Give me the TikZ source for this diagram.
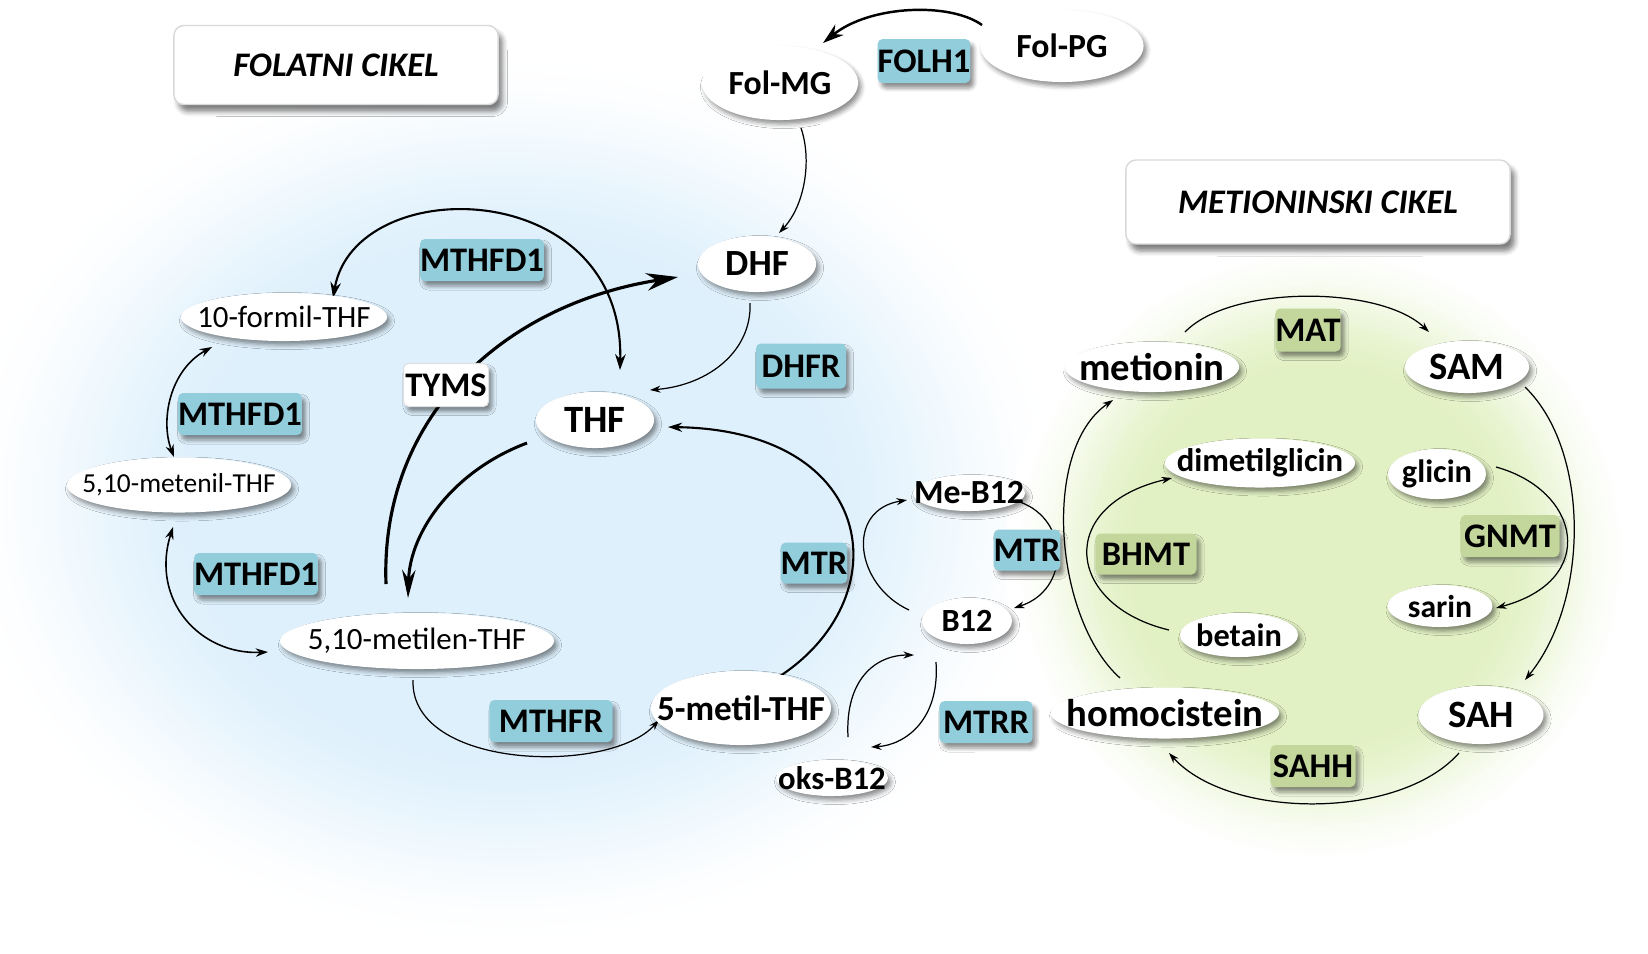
\documentclass[tikz,border=0pt]{standalone}
\usepackage{fontspec}
\setmainfont{Carlito}
\usetikzlibrary{shapes.geometric,arrows.meta,shadows.blur}
\definecolor{enzblue}{RGB}{146,205,220}
\definecolor{enzgreen}{RGB}{195,214,155}
\definecolor{glowblue}{RGB}{222,240,252}
\definecolor{glowgreen}{RGB}{226,241,196}
\pgfdeclarelayer{edges}
\pgfdeclarelayer{top}
\pgfsetlayers{main,edges,top}
\newcommand\fsz[1]{\fontsize{#1pt}{#1pt}\selectfont}
\begin{document}
\begin{tikzpicture}[x=0.01cm,y=-0.01cm,
  nd/.style={ellipse,fill=white,inner xsep=-8pt,inner ysep=-3pt,text=black,
    blur shadow={shadow xshift=0.03cm,shadow yshift=-0.04cm,shadow blur radius=0.045cm,shadow opacity=45}},
  enzb/.style={rectangle,rounded corners=0.05cm,fill=enzblue,inner sep=0pt,font=\fsz{9.8}\bfseries,
    blur shadow={shadow xshift=0.035cm,shadow yshift=-0.05cm,shadow blur radius=0.04cm,shadow opacity=45}},
  enzg/.style={enzb,fill=enzgreen},
  enzw/.style={enzb,fill=white,draw=black!12,line width=0.3pt},
  titlebox/.style={rectangle,rounded corners=0.1cm,fill=white,draw=black!15,line width=0.4pt,inner sep=0pt,
    font=\fsz{9.8}\bfseries\itshape,
    blur shadow={shadow xshift=0.045cm,shadow yshift=-0.07cm,shadow blur radius=0.05cm,shadow opacity=50}},
  nbig/.style={font=\fsz{11}\bfseries},
  nmed/.style={font=\fsz{9.6}\bfseries},
  nreg/.style={font=\fsz{8.8}},
  thinarr/.style={line width=0.35pt,-{Stealth[length=3pt,width=2pt]}},
  dblarr/.style={line width=0.45pt,{Stealth[length=3.5pt,width=2.4pt]}-{Stealth[length=3.5pt,width=2.4pt]}},
  dblmid/.style={line width=0.6pt,{Stealth[length=4.5pt,width=3pt]}-{Stealth[length=4.5pt,width=3pt]}},
  midarr/.style={line width=0.6pt,-{Stealth[length=4pt,width=2.6pt]}},
  folarr/.style={line width=0.7pt,-{Stealth[length=6pt,width=3.8pt]}},
  bigarr/.style={line width=0.9pt,-{Stealth[length=9pt,width=5pt]}},
  bigarrb/.style={line width=0.85pt,-{Stealth[length=8pt,width=3.8pt]}},
]
\useasboundingbox (0,0) rectangle (1648,953);
% invisible zero-size path that uses opacity once
\path[fill=white,fill opacity=0.5] (0,0) rectangle (0,0);

% background glows (concentric rings)
\foreach \k in {0,...,44}{
  \pgfmathsetmacro\s{1-0.46*\k/44}
  \pgfmathsetmacro\p{100*(3*(\k/44)^2-2*(\k/44)^3)}
  \fill[glowblue!\p!white] (510,500) ellipse ({5.6cm*\s} and {4.5cm*\s});
}
\foreach \k in {0,...,44}{
  \pgfmathsetmacro\s{1-0.42*\k/44}
  \pgfmathsetmacro\p{100*(3*(\k/44)^2-2*(\k/44)^3)}
  \fill[glowgreen!\p!white] (1320,555) ellipse ({3.15cm*\s} and {3.15cm*\s});
}

\begin{pgfonlayer}{top}
% title boxes
\node[titlebox,minimum width=3.24cm,minimum height=0.79cm] (folatni) at (336,65) {FOLATNI CIKEL};
\node[titlebox,minimum width=3.84cm,minimum height=0.84cm] (metcikel) at (1318,202) {METIONINSKI CIKEL};

% metabolites
\node[nd,nmed,minimum width=1.56cm,minimum height=0.74cm] (folmg) at (780,83) {Fol-MG};
\node[nd,nmed,minimum width=1.63cm,minimum height=0.72cm] (folpg) at (1062,46) {Fol-PG};
\node[nd,font=\fsz{10.5}\bfseries,minimum width=1.18cm,minimum height=0.56cm] (dhf) at (757,264) {DHF};
\node[nd,nbig,minimum width=1.18cm,minimum height=0.56cm] (thf) at (595,420) {THF};
\node[nd,nreg,minimum width=2.06cm,minimum height=0.48cm] (formil) at (284,317) {10-formil-THF};
\node[nd,font=\fsz{7.8},minimum width=2.24cm,minimum height=0.55cm] (metenil) at (179,485) {5,10-metenil-THF};
\node[nd,nreg,minimum width=2.74cm,minimum height=0.56cm] (metilen) at (417,641) {5,10-metilen-THF};
\node[nd,font=\fsz{10}\bfseries,minimum width=1.8cm,minimum height=0.74cm] (metilthf) at (741,708) {5-metil-THF};
\node[nd,nmed,minimum width=1.12cm,minimum height=0.36cm] (meb12) at (969,493) {Me-B12};
\node[nd,font=\fsz{9.2}\bfseries,minimum width=0.9cm,minimum height=0.46cm] (b12) at (967,621) {B12};
\node[nd,font=\fsz{9.3}\bfseries,minimum width=1.12cm,minimum height=0.36cm] (oksb12) at (832,778) {oks-B12};
\node[nd,nbig,minimum width=1.74cm,minimum height=0.5cm] (metionin) at (1152,367) {metionin};
\node[nd,nbig,minimum width=1.24cm,minimum height=0.52cm] (sam) at (1467,367) {SAM};
\node[nd,font=\fsz{9.3}\bfseries,minimum width=1.9cm,minimum height=0.49cm] (dmg) at (1260,463) {dimetilglicin};
\node[nd,font=\fsz{9.2}\bfseries,minimum width=0.98cm,minimum height=0.5cm] (glicin) at (1437,474) {glicin};
\node[nd,font=\fsz{9}\bfseries,minimum width=1.05cm,minimum height=0.42cm] (sarin) at (1440,606) {sarin};
\node[nd,font=\fsz{9.2}\bfseries,minimum width=1.18cm,minimum height=0.44cm] (betain) at (1239,635) {betain};
\node[nd,nbig,minimum width=2.28cm,minimum height=0.51cm] (homocis) at (1165,713) {homocistein};
\node[nd,nbig,minimum width=1.25cm,minimum height=0.58cm] (sah) at (1481,715) {SAH};

% enzymes
\node[enzb,minimum width=0.9cm,minimum height=0.44cm] (folh1) at (924,61) {FOLH1};
\node[enzb,minimum width=1.22cm,minimum height=0.42cm] (mthfdA) at (482,260) {MTHFD1};
\node[enzb,minimum width=0.9cm,minimum height=0.45cm] (dhfr) at (801,366) {DHFR};
\node[enzw,minimum width=0.85cm,minimum height=0.43cm] (tyms) at (446,385) {TYMS};
\node[enzb,minimum width=1.2cm,minimum height=0.42cm] (mthfdB) at (240,414) {MTHFD1};
\node[enzb,minimum width=1.22cm,minimum height=0.42cm] (mthfdC) at (256,574) {MTHFD1};
\node[enzb,minimum width=1.23cm,minimum height=0.42cm] (mthfr) at (551,721) {MTHFR};
\node[enzb,minimum width=0.65cm,minimum height=0.41cm] (mtrA) at (814,563) {MTR};
\node[enzb,minimum width=0.65cm,minimum height=0.41cm] (mtrB) at (1027,550) {MTR};
\node[enzb,minimum width=0.93cm,minimum height=0.42cm] (mtrr) at (986,722) {MTRR};
\node[enzg,minimum width=0.65cm,minimum height=0.43cm] (mat) at (1308,330) {MAT};
\node[enzg,minimum width=0.99cm,minimum height=0.42cm] (gnmt) at (1510,536) {GNMT};
\node[enzg,minimum width=1.01cm,minimum height=0.41cm] (bhmt) at (1146,554) {BHMT};
\node[enzg,minimum width=0.85cm,minimum height=0.42cm] (sahh) at (1313,766) {SAHH};
\end{pgfonlayer}

% connectors
\begin{pgfonlayer}{edges}
\draw[folarr] ([shift={(-80,-21)}]folpg.center) .. controls +(-32,-23) and +(47,-38) .. ([shift={(43,-40)}]folmg.center);
\draw[thinarr] ([shift={(21,45)}]folmg.center) .. controls +(11,32) and +(26,-28) .. ([shift={(22,-31)}]dhf.center);
\draw[thinarr] ([shift={(-7,39)}]dhf.center) .. controls +(2,47) and +(60,-5) .. ([shift={(55,-30)}]thf.center);
\draw[dblmid] ([shift={(49,-19)}]formil.center) .. controls +(22,-127) and +(5,-195) .. ([shift={(25,-50)}]thf.center);
\draw[bigarr] ([shift={(-31,-57)}]metilen.center) .. controls +(-6,-164) and +(-178,28) .. ([shift={(-79,13)}]dhf.center);
\draw[bigarrb] ([shift={(-68,23)}]thf.center) .. controls +(-72,27) and +(2,-68) .. ([shift={(-9,-43)}]metilen.center);
\draw[dblarr] ([shift={(-72,30)}]formil.center) .. controls +(-42,23) and +(-14,-37) .. ([shift={(-5,-28)}]metenil.center);
\draw[dblarr] ([shift={(-6,42)}]metenil.center) .. controls +(-23,73) and +(-68,3) .. ([shift={(-149,11)}]metilen.center);
\draw[thinarr] ([shift={(-4,39)}]metilen.center) .. controls +(-3,90) and +(-49,55) .. ([shift={(-82,12)}]metilthf.center);
\draw[midarr] ([shift={(36,-30)}]metilthf.center) .. controls +(123,-78) and +(212,3) .. ([shift={(73,7)}]thf.center);
\draw[thinarr] ([shift={(-58,-11)}]b12.center) .. controls +(-54,-25) and +(-62,10) .. ([shift={(-62,7)}]meb12.center);
\draw[thinarr] ([shift={(51,9)}]meb12.center) .. controls +(50,18) and +(56,-18) .. ([shift={(47,-13)}]b12.center);
\draw[thinarr] ([shift={(16,-41)}]oksb12.center) .. controls +(-3,-57) and +(-39,0) .. ([shift={(-53,34)}]b12.center);
\draw[thinarr] ([shift={(-31,41)}]b12.center) .. controls +(4,58) and +(34,-2) .. ([shift={(39,-31)}]oksb12.center);
\draw[thinarr] ([shift={(-45,-35)}]homocis.center) .. controls +(-65,-58) and +(-73,50) .. ([shift={(-39,33)}]metionin.center);
\draw[thinarr] ([shift={(-70,-5)}]betain.center) .. controls +(-104,-25) and +(-117,27) .. ([shift={(-88,15)}]dmg.center);
\draw[thinarr] ([shift={(33,-35)}]metionin.center) .. controls +(45,-47) and +(-49,-47) .. ([shift={(-38,-35)}]sam.center);
\draw[thinarr] ([shift={(58,20)}]sam.center) .. controls +(65,63) and +(65,-80) .. ([shift={(44,-35)}]sah.center);
\draw[thinarr] ([shift={(59,-7)}]glicin.center) .. controls +(84,23) and +(104,-28) .. ([shift={(56,2)}]sarin.center);
\draw[thinarr] ([shift={(-22,38)}]sah.center) .. controls +(-59,67) and +(61,67) .. ([shift={(4,40)}]homocis.center);
\end{pgfonlayer}
\end{tikzpicture}
\end{document}
